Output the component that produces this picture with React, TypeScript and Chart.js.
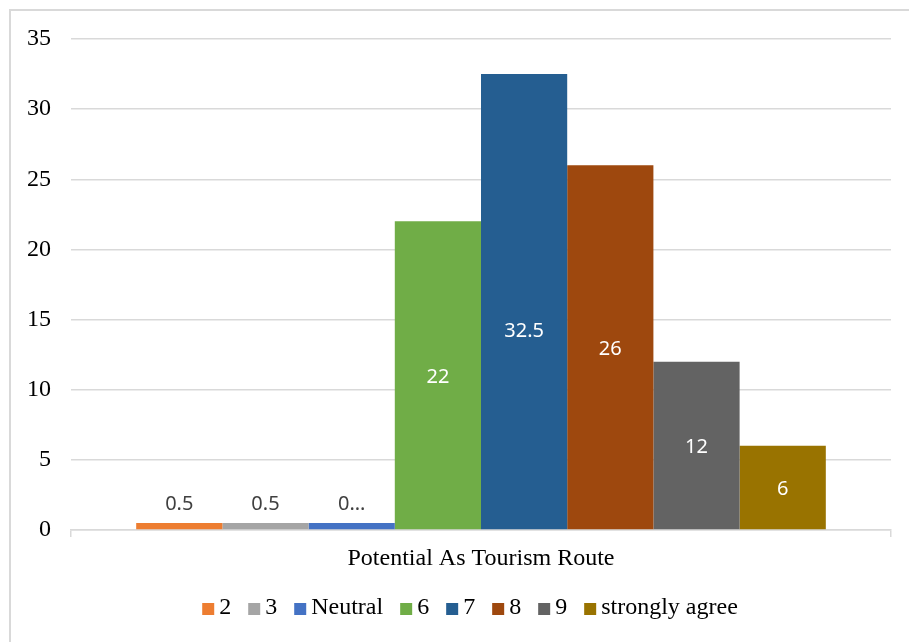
import React, { useEffect, useRef } from "react";
import { Chart, registerables } from "chart.js";

Chart.register(...registerables);

const categories = ["Potential As Tourism Route"];
const seriesNames = ["2", "3", "Neutral", "6", "7", "8", "9", "strongly agree"];
const seriesValues = [0.5, 0.5, 0.5, 22, 32.5, 26, 12, 6];
const valueLabels = ["0.5", "0.5", "0...", "22", "32.5", "26", "12", "6"];
const seriesColors = ["#ED7D31", "#A5A5A5", "#4472C4", "#70AD47", "#255E91", "#9E480E", "#636363", "#997300"];
const yMin = 0;
const yMax = 35;
const yStep = 5;

const CANVAS_W = 898;
const CANVAS_H = 631;
const SERIF = "'Liberation Serif', 'Times New Roman', serif";

const valueLabelPlugin = {
  id: "valueLabels",
  afterDatasetsDraw(chart: any) {
    const ctx = chart.ctx;
    ctx.save();
    ctx.font = "20px 'Noto Sans'";
    ctx.textAlign = "center";
    ctx.textBaseline = "middle";
    chart.data.datasets.forEach((ds: any, i: number) => {
      const meta = chart.getDatasetMeta(i);
      const bar: any = meta.data[0];
      if (!bar) return;
      const { x, y, base } = bar.getProps(["x", "y", "base"], true);
      const h = base - y;
      const text = valueLabels[i];
      if (h < 40) {
        ctx.fillStyle = "#404040";
        ctx.fillText(text, x, y - 19);
      } else {
        const at = ds.labelAt ?? 0.5;
        ctx.fillStyle = "#FFFFFF";
        ctx.fillText(text, x, base - h * at + 2);
      }
    });
    ctx.restore();
  },
};

const customLegendPlugin = {
  id: "customLegend",
  afterDraw(chart: any) {
    const ctx = chart.ctx;
    const box = 12;
    const boxGap = 5;
    const itemGap = 17;
    const centerX = 459;
    const centerY = 597;
    ctx.save();
    ctx.font = `24px ${SERIF}`;
    ctx.textBaseline = "middle";
    ctx.textAlign = "left";
    const items = chart.data.datasets.map((ds: any) => ({
      label: ds.label,
      color: ds.backgroundColor,
      w: ctx.measureText(ds.label).width,
    }));
    let total = 0;
    items.forEach((it: any, i: number) => {
      total += box + boxGap + it.w + (i < items.length - 1 ? itemGap : 0);
    });
    let x = centerX - total / 2;
    items.forEach((it: any) => {
      ctx.fillStyle = it.color;
      ctx.fillRect(x, centerY - box / 2 + 1, box, box);
      ctx.fillStyle = "#000000";
      ctx.fillText(it.label, x + box + boxGap, centerY);
      x += box + boxGap + it.w + itemGap;
    });
    ctx.restore();
  },
};

export default function App() {
  const canvasRef = useRef<HTMLCanvasElement | null>(null);

  useEffect(() => {
    if (!canvasRef.current) return;
    const datasets = seriesNames.map((name, i) => ({
      label: name,
      data: [seriesValues[i]],
      backgroundColor: seriesColors[i],
      borderWidth: 0,
      categoryPercentage: 0.841,
      barPercentage: 1,
      labelAt: i === 4 ? 0.44 : 0.5,
    }));
    const chart = new Chart(canvasRef.current, {
      type: "bar",
      data: { labels: categories, datasets: datasets as any },
      plugins: [valueLabelPlugin, customLegendPlugin],
      options: {
        responsive: false,
        animation: false,
        devicePixelRatio: 1,
        layout: { padding: { top: 28, right: 18, bottom: 0, left: 0 } },
        plugins: {
          tooltip: { enabled: false },
          legend: { display: false },
        },
        scales: {
          x: {
            grid: {
              display: true,
              drawOnChartArea: false,
              drawTicks: true,
              tickLength: 7,
              color: "#D9D9D9",
              lineWidth: 1.5,
            },
            border: { display: true, color: "#D9D9D9", width: 1.5 },
            ticks: {
              font: { family: SERIF, size: 24 },
              color: "#000000",
              padding: 7,
            },
            afterFit(scale: any) {
              scale.height = 112;
              scale.paddingLeft = 0;
              scale.paddingRight = 0;
            },
          },
          y: {
            min: yMin,
            max: yMax,
            grid: { color: "#D9D9D9", lineWidth: 1.5, drawTicks: false },
            border: { display: false },
            ticks: {
              stepSize: yStep,
              font: { family: SERIF, size: 24 },
              color: "#000000",
              padding: 20,
            },
            afterFit(scale: any) {
              scale.width = 60;
              scale.paddingTop = 0;
              scale.paddingBottom = 0;
            },
          },
        },
      },
    });
    return () => chart.destroy();
  }, []);

  return (
    <div
      style={{
        position: "fixed",
        left: 9,
        top: 9,
        width: 909,
        height: 642,
        borderTop: "2px solid #D9D9D9",
        borderLeft: "2px solid #D9D9D9",
        boxSizing: "border-box",
        background: "#FFFFFF",
      }}
    >
      <canvas ref={canvasRef} width={CANVAS_W} height={CANVAS_H} style={{ display: "block" }} />
    </div>
  );
}
